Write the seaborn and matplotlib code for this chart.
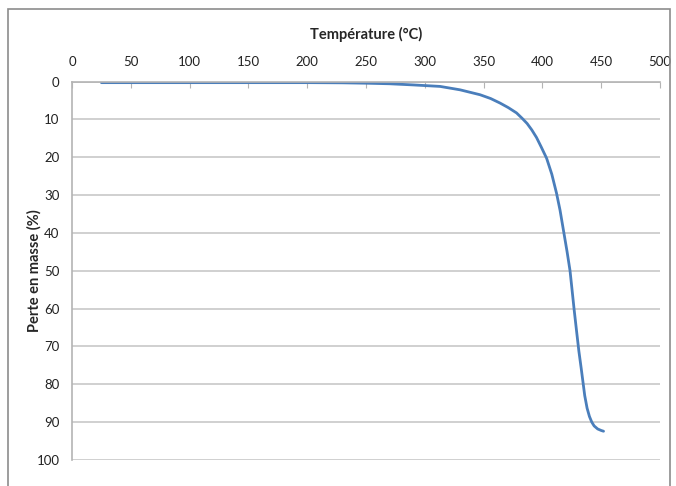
import matplotlib
matplotlib.use("Agg")
import matplotlib.pyplot as plt
from matplotlib.patches import Rectangle
import seaborn as sns

# Courbe ATG : température (°C) et perte en masse (%)
temperature = [25, 100, 150, 200, 230, 250, 270, 290, 313, 330, 347, 356, 364,
               371, 378, 383, 387, 391, 395, 399, 403.6, 408, 412, 415, 418,
               421, 423.5, 425, 427, 429, 431, 433, 436, 438, 440, 442, 444,
               447, 450, 452]
perte_masse = [0.3, 0.3, 0.3, 0.3, 0.35, 0.45, 0.6, 0.9, 1.3, 2.2, 3.5, 4.5,
               5.7, 6.9, 8.3, 9.8, 11.1, 12.8, 14.8, 17.3, 20.3, 24.5, 29.5,
               34, 39.5, 45, 50, 54.4, 60.3, 65.8, 71.2, 75.8, 83, 86.3, 88.5,
               90, 91, 91.8, 92.2, 92.4]
x_ticks = list(range(0, 501, 50))
y_ticks = list(range(0, 101, 10))

sns.set_style("white")
plt.rcParams['font.family'] = ['Lato', 'DejaVu Sans']

fig = plt.figure(figsize=(6.76, 4.86), dpi=100)
ax = fig.add_axes([72 / 676, 1 - 460 / 486, 588 / 676, 378.5 / 486])

# Cadre extérieur
fig.patches.append(Rectangle((8 / 676, -0.05), 662 / 676, 1.05 - 9 / 486,
                             transform=fig.transFigure, fill=False,
                             edgecolor='#8c8c8c', linewidth=1.2))

sns.lineplot(x=temperature, y=perte_masse, ax=ax, color='#4a7ebb', linewidth=2)
for l in ax.lines:
    l.set_solid_joinstyle('round')
    l.set_solid_capstyle('round')

ax.set_xlim(0, 500)
ax.set_ylim(100, 0)
ax.set_xticks(x_ticks)
ax.set_yticks(y_ticks)
ax.xaxis.tick_top()
ax.xaxis.set_label_position('top')
ax.grid(axis='y', color='#c8c8c8', linewidth=1.2)
ax.grid(axis='x', visible=False)

for s in ['right', 'bottom']:
    ax.spines[s].set_visible(False)
for s in ['top', 'left']:
    ax.spines[s].set_color('#b4b4b4')
    ax.spines[s].set_linewidth(1.2)

ax.tick_params(axis='x', direction='in', length=4, color='#b4b4b4',
               labelsize=9.5, labelcolor='#222222', pad=10)
ax.tick_params(axis='y', direction='out', length=5, color='#b4b4b4',
               labelsize=9.5, labelcolor='#222222', pad=4)

ax.set_xlabel('Température (°C)', fontsize=10.5, fontweight='bold', labelpad=12)
ax.set_ylabel('Perte en masse (%)', fontsize=10.5, fontweight='bold', labelpad=-4)

plt.savefig('out.png', dpi=100)
plt.close(fig)
